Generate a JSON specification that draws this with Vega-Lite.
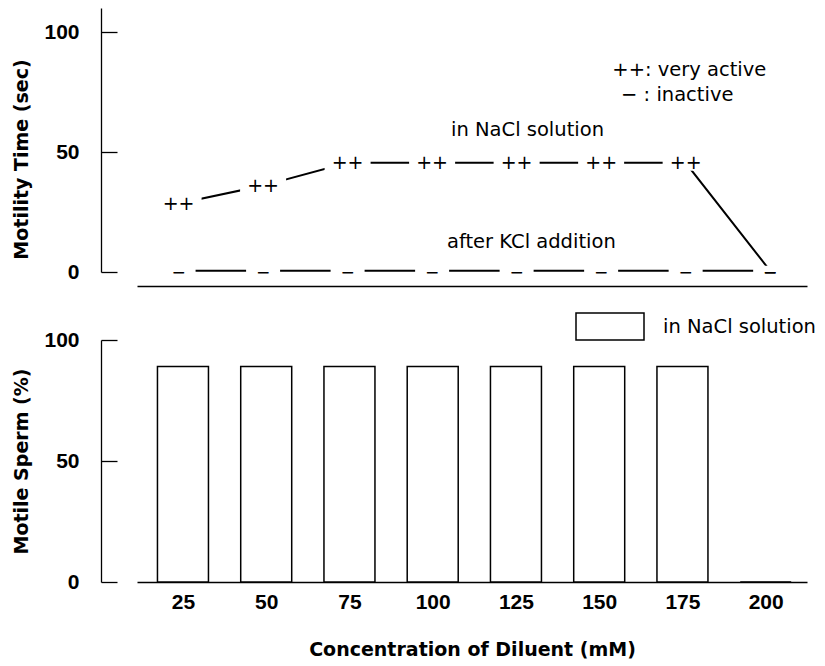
{
  "$schema": "https://vega.github.io/schema/vega-lite/v6.json",
  "background": "white",
  "padding": {"left": 12, "top": 8, "right": 2, "bottom": 2},
  "bounds": "flush",
  "spacing": 68,
  "config": {
    "view": {"stroke": null},
    "axis": {"domainColor": "black", "tickColor": "black", "labelColor": "black", "titleColor": "black", "grid": false, "labelFlush": false, "domainWidth": 1.3, "tickWidth": 1.3}
  },
  "datasets": {
    "motility": [
      {"conc": 25, "time": 28.5, "series": "in NaCl solution", "marker": "++"},
      {"conc": 50, "time": 36, "series": "in NaCl solution", "marker": "++"},
      {"conc": 75, "time": 45.5, "series": "in NaCl solution", "marker": "++"},
      {"conc": 100, "time": 45.5, "series": "in NaCl solution", "marker": "++"},
      {"conc": 125, "time": 45.5, "series": "in NaCl solution", "marker": "++"},
      {"conc": 150, "time": 45.5, "series": "in NaCl solution", "marker": "++"},
      {"conc": 175, "time": 45.5, "series": "in NaCl solution", "marker": "++"},
      {"conc": 200, "time": 0.5, "series": "in NaCl solution", "marker": "−"},
      {"conc": 25, "time": 0.5, "series": "after KCl addition", "marker": "−"},
      {"conc": 50, "time": 0.5, "series": "after KCl addition", "marker": "−"},
      {"conc": 75, "time": 0.5, "series": "after KCl addition", "marker": "−"},
      {"conc": 100, "time": 0.5, "series": "after KCl addition", "marker": "−"},
      {"conc": 125, "time": 0.5, "series": "after KCl addition", "marker": "−"},
      {"conc": 150, "time": 0.5, "series": "after KCl addition", "marker": "−"},
      {"conc": 175, "time": 0.5, "series": "after KCl addition", "marker": "−"},
      {"conc": 200, "time": 0.5, "series": "after KCl addition", "marker": "−"}
    ],
    "notes": [
      {"conc": 105.6, "time": 59.2, "note": "in NaCl solution"},
      {"conc": 104.4, "time": 12.5, "note": "after KCl addition"},
      {"conc": 153.3, "time": 84.2, "note": "++: very active"},
      {"conc": 155.9, "time": 73.8, "note": "− : inactive"}
    ],
    "sperm": [
      {"conc": 25, "motile": 89, "solution": "in NaCl solution"},
      {"conc": 50, "motile": 89, "solution": "in NaCl solution"},
      {"conc": 75, "motile": 89, "solution": "in NaCl solution"},
      {"conc": 100, "motile": 89, "solution": "in NaCl solution"},
      {"conc": 125, "motile": 89, "solution": "in NaCl solution"},
      {"conc": 150, "motile": 89, "solution": "in NaCl solution"},
      {"conc": 175, "motile": 89, "solution": "in NaCl solution"},
      {"conc": 200, "motile": 0, "solution": "in NaCl solution"}
    ]
  },
  "vconcat": [
    {
      "width": 670,
      "height": 264,
      "encoding": {
        "x": {"field": "conc", "type": "quantitative", "scale": {"domain": [12.7, 210.9], "nice": false, "zero": false},
          "axis": {"labels": false, "ticks": false, "title": null, "offset": 14, "domainWidth": 1.5}},
        "y": {"field": "time", "type": "quantitative", "scale": {"domain": [0, 110], "nice": false},
          "axis": {"values": [0, 50, 100], "offset": 36, "tickSize": -16, "labelPadding": 38,
            "labelFont": "Liberation Sans", "labelFontWeight": "bold", "labelFontSize": 21,
            "title": "Motility Time (sec)", "titleFont": "DejaVu Sans", "titleFontWeight": "bold", "titleFontSize": 19,
            "titlePadding": 12, "titleY": 151}}
      },
      "layer": [
        {
          "data": {"name": "motility"},
          "mark": {"type": "line", "color": "black", "strokeWidth": 2},
          "encoding": {"detail": {"field": "series"}}
        },
        {
          "data": {"name": "motility"},
          "transform": [{"filter": "datum.marker == '++'"}],
          "mark": {"type": "point", "shape": "M-1,-0.35H1V0.35H-1Z", "filled": true, "color": "white", "opacity": 1, "strokeWidth": 0, "size": 2116}
        },
        {
          "data": {"name": "motility"},
          "transform": [{"filter": "datum.series == 'after KCl addition'"}],
          "mark": {"type": "point", "shape": "M-1,-0.3H1V0.3H-1Z", "filled": true, "color": "white", "opacity": 1, "strokeWidth": 0, "size": 1156}
        },
        {
          "data": {"name": "motility"},
          "transform": [{"filter": "datum.marker == '++'"}],
          "mark": {"type": "text", "font": "DejaVu Sans", "fontSize": 19, "baseline": "middle", "align": "center", "color": "black"},
          "encoding": {"text": {"field": "marker"}}
        },
        {
          "data": {"name": "motility"},
          "transform": [{"filter": "datum.marker != '++'"}],
          "mark": {"type": "text", "font": "DejaVu Sans", "fontSize": 17, "baseline": "middle", "align": "center", "color": "black", "dy": 2},
          "encoding": {"text": {"field": "marker"}}
        },
        {
          "data": {"name": "notes"},
          "mark": {"type": "text", "font": "DejaVu Sans", "fontSize": 19.5, "baseline": "middle", "align": "left", "color": "black"},
          "encoding": {"text": {"field": "note"}}
        }
      ]
    },
    {
      "width": 670,
      "height": 242,
      "data": {"name": "sperm"},
      "mark": {"type": "bar", "width": 51, "stroke": "black", "strokeWidth": 1.5},
      "encoding": {
        "x": {"field": "conc", "type": "quantitative", "scale": {"domain": [12.7, 210.9], "nice": false, "zero": false},
          "axis": {"values": [25, 50, 75, 100, 125, 150, 175, 200], "ticks": false, "labelPadding": 9,
            "labelFont": "Liberation Sans", "labelFontWeight": "bold", "labelFontSize": 21,
            "title": "Concentration of Diluent (mM)", "titleFont": "DejaVu Sans", "titleFontWeight": "bold", "titleFontSize": 19,
            "titlePadding": 28, "domainWidth": 1.5}},
        "y": {"field": "motile", "type": "quantitative", "scale": {"domain": [0, 100], "nice": false},
          "axis": {"values": [0, 50, 100], "offset": 36, "tickSize": -16, "labelPadding": 38,
            "labelFont": "Liberation Sans", "labelFontWeight": "bold", "labelFontSize": 21,
            "title": "Motile Sperm (%)", "titleFont": "DejaVu Sans", "titleFontWeight": "bold", "titleFontSize": 19,
            "titlePadding": 12}},
        "fill": {"field": "solution", "type": "nominal", "scale": {"range": ["white"]},
          "legend": {"orient": "none", "legendX": 438, "legendY": 283.5, "title": null,
            "symbolType": "M-1,-0.4H1V0.4H-1Z", "symbolSize": 4624, "symbolStrokeColor": "black", "symbolStrokeWidth": 1.5,
            "labelFont": "DejaVu Sans", "labelFontSize": 19.5, "labelOffset": 18, "labelColor": "black", "padding": 0}}
      }
    }
  ]
}
